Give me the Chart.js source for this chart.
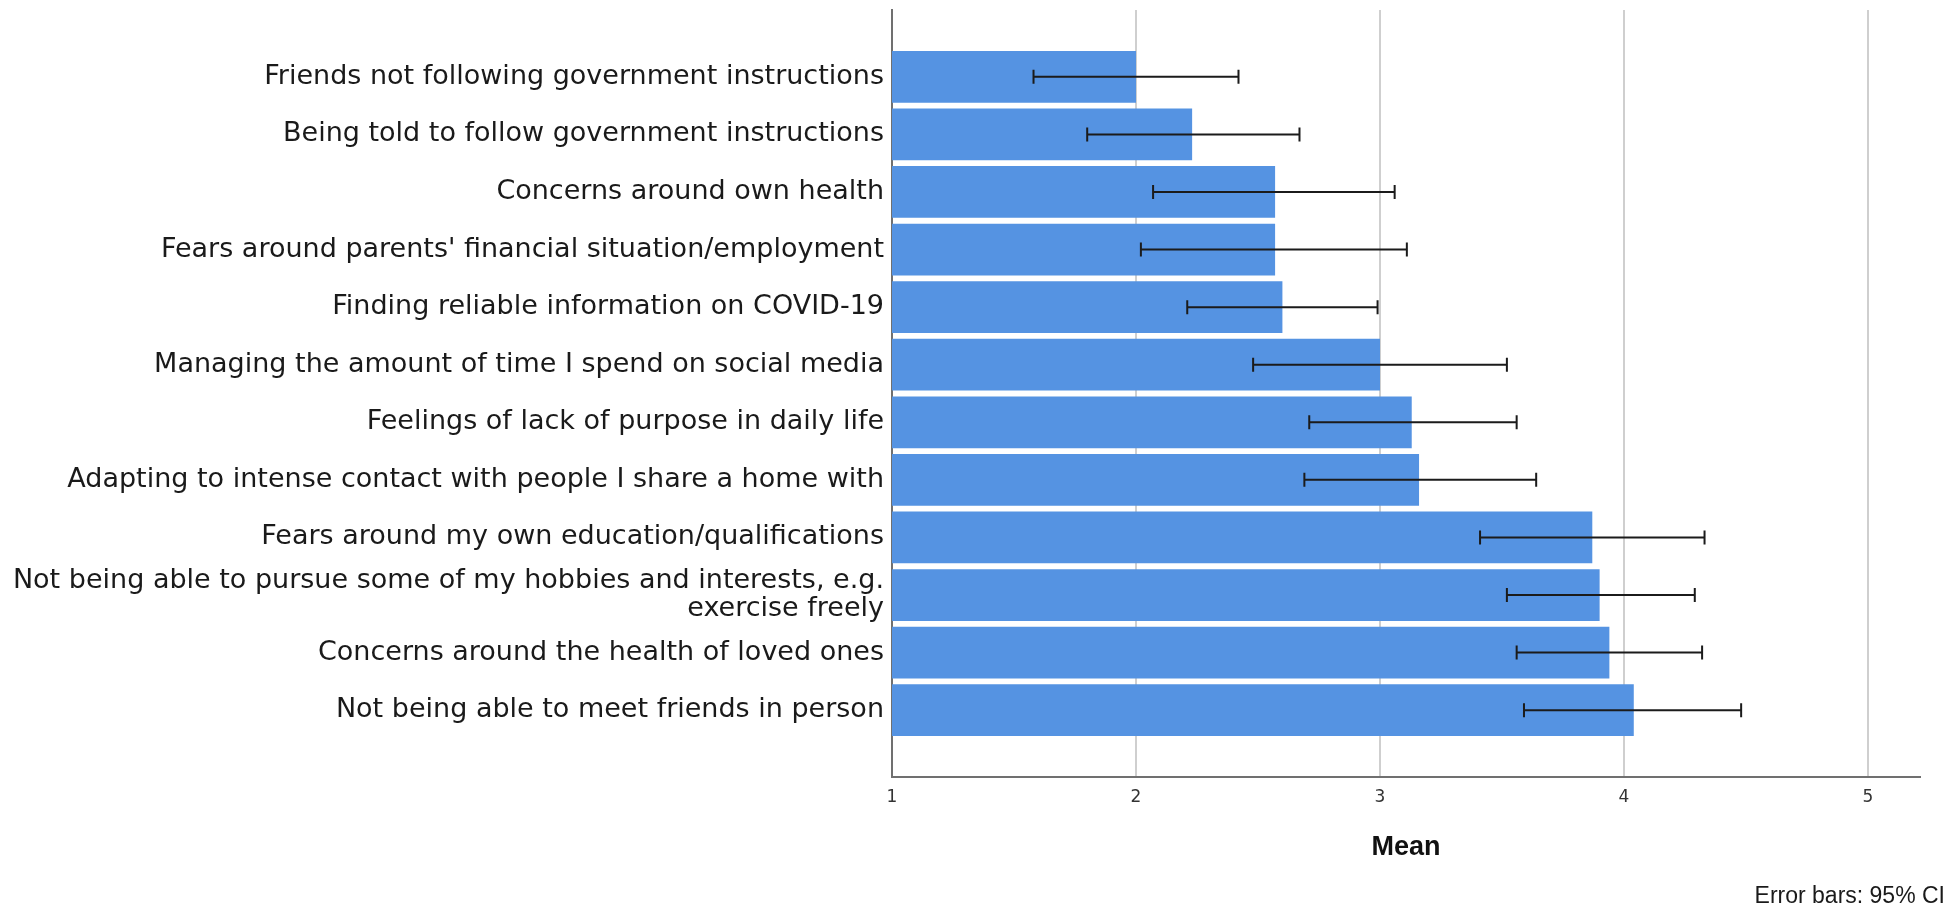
<!DOCTYPE html>
<html>
<head>
<meta charset="utf-8">
<script src="https://cdn.jsdelivr.net/npm/chart.js@4/dist/chart.umd.min.js"></script>
<style>
  html, body { margin: 0; padding: 0; background: #ffffff; }
  #wrap { width: 1957px; height: 909px; }
</style>
</head>
<body>
<div id="wrap"><canvas id="c" width="1957" height="909"></canvas></div>
<script>
// Items rated (top to bottom)
const categories = [
  "Friends not following government instructions",
  "Being told to follow government instructions",
  "Concerns around own health",
  "Fears around parents' financial situation/employment",
  "Finding reliable information on COVID-19",
  "Managing the amount of time I spend on social media",
  "Feelings of lack of purpose in daily life",
  "Adapting to intense contact with people I share a home with",
  "Fears around my own education/qualifications",
  ["Not being able to pursue some of my hobbies and interests, e.g.", "exercise freely"],
  "Concerns around the health of loved ones",
  "Not being able to meet friends in person"
];

// Mean rating per item
const means   = [2.00, 2.23, 2.57, 2.57, 2.60, 3.00, 3.13, 3.16, 3.87, 3.90, 3.94, 4.04];
// 95% confidence interval bounds
const ciLower = [1.58, 1.80, 2.07, 2.02, 2.21, 2.48, 2.71, 2.69, 3.41, 3.52, 3.56, 3.59];
const ciUpper = [2.42, 2.67, 3.06, 3.11, 2.99, 3.52, 3.56, 3.64, 4.33, 4.29, 4.32, 4.48];

// Mean axis tick labels
const xTicks = [1, 2, 3, 4, 5];

// Draws the 95% CI whiskers on top of the bars
const errorBars = {
  id: 'errorBars',
  afterDatasetsDraw(chart) {
    const { ctx, scales: { x, y } } = chart;
    ctx.save();
    ctx.strokeStyle = '#1b1b1b';
    ctx.lineWidth = 2;
    ctx.lineCap = 'butt';
    means.forEach((m, i) => {
      const py = y.getPixelForValue(i);
      const xl = x.getPixelForValue(ciLower[i]);
      const xr = x.getPixelForValue(ciUpper[i]);
      ctx.beginPath();
      ctx.moveTo(xl, py); ctx.lineTo(xr, py);
      ctx.moveTo(xl, py - 7); ctx.lineTo(xl, py + 7);
      ctx.moveTo(xr, py - 7); ctx.lineTo(xr, py + 7);
      ctx.stroke();
    });
    ctx.restore();
  }
};

// Footnote in the lower right corner
const footnote = {
  id: 'footnote',
  afterDraw(chart) {
    const { ctx } = chart;
    ctx.save();
    ctx.font = '23px "Liberation Sans", Arial, sans-serif';
    ctx.fillStyle = '#1a1a1a';
    ctx.textAlign = 'right';
    ctx.textBaseline = 'middle';
    ctx.fillText('Error bars: 95% CI', chart.width - 12, 897);
    ctx.restore();
  }
};

new Chart(document.getElementById('c'), {
  type: 'bar',
  data: {
    datasets: [{
      data: means.map((v, i) => ({ x: v, y: i })),
      backgroundColor: '#5593e2',
      borderWidth: 0,
      barPercentage: 0.9,
      categoryPercentage: 1.0
    }]
  },
  options: {
    indexAxis: 'y',
    responsive: false,
    animation: false,
    layout: { padding: { top: 10, right: 37, left: 0, bottom: 0 } },
    plugins: {
      legend: { display: false },
      tooltip: { enabled: false },
      title: { display: false }
    },
    scales: {
      x: {
        type: 'linear',
        min: 1,
        max: 5.213,
        afterBuildTicks: (s) => { s.ticks = xTicks.map(v => ({ value: v })); },
        grid: { color: '#cfcfcf', lineWidth: 2, drawTicks: false },
        border: { display: true, color: '#707070', width: 2 },
        ticks: {
          font: { family: 'DejaVu Sans', size: 17 },
          color: '#333333',
          padding: 10,
          maxRotation: 0
        },
        title: {
          display: true,
          text: 'Mean',
          font: { family: 'Liberation Sans', size: 27, weight: 'bold' },
          color: '#111111',
          padding: { top: 0, bottom: 45 }
        },
        afterFit: (s) => { s.height = 132; }
      },
      y: {
        type: 'linear',
        reverse: true,
        offset: false,
        min: -1.16,
        max: 12.16,
        afterBuildTicks: (s) => { s.ticks = categories.map((_, i) => ({ value: i })); },
        grid: { display: false, drawTicks: false, offset: false },
        border: { display: true, color: '#707070', width: 2 },
        ticks: {
          callback: (v) => categories[v],
          font: { family: 'DejaVu Sans', size: 27, lineHeight: 1.07 },
          color: '#1a1a1a',
          padding: 8,
          autoSkip: false
        },
        afterFit: (s) => {
          s.width = 892;
          s.paddingTop = 0;
          s.paddingBottom = 0;
        }
      }
    }
  },
  plugins: [errorBars, footnote]
});
</script>
</body>
</html>
